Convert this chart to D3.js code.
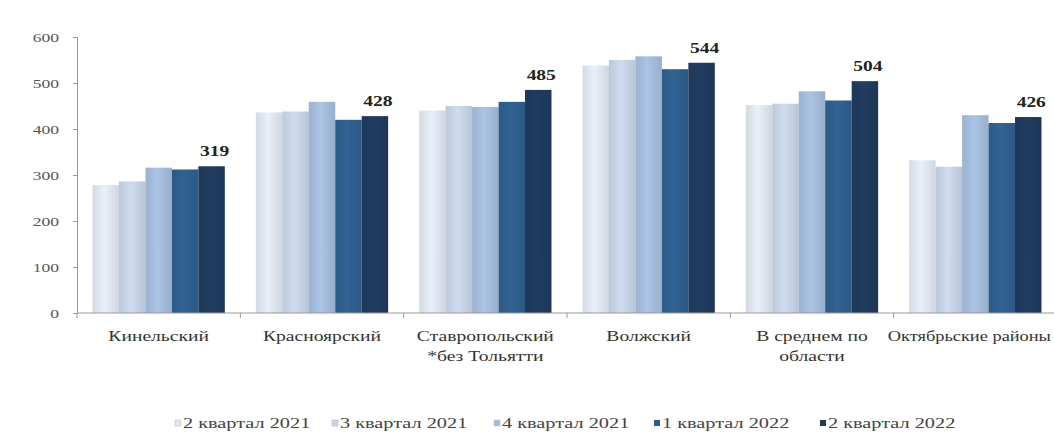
<!DOCTYPE html>
<html>
<head>
<meta charset="utf-8">
<script src="https://cdn.jsdelivr.net/npm/d3@7"></script>
<style>
  body { margin: 0; background: #fff; }
  svg { display: block; font-family: "Liberation Serif", "DejaVu Serif", serif; }
</style>
</head>
<body>
<svg></svg>
<script>
const WIDTH = 1054;
const HEIGHT = 434;

// data
const categories = [
    ['Кинельский'],
    ['Красноярский'],
    ['Ставропольский', '*без Тольятти'],
    ['Волжский'],
    ['В среднем по', 'области'],
    ['Октябрьские районы']
];
const seriesNames = ['2 квартал 2021', '3 квартал 2021', '4 квартал 2021', '1 квартал 2022', '2 квартал 2022'];
const q2_2021 = [278, 436, 440, 538, 452, 332];
const q3_2021 = [286, 438, 450, 550, 455, 318];
const q4_2021 = [316, 459, 448, 558, 482, 430];
const q1_2022 = [312, 420, 459, 530, 462, 413];
const q2_2022 = [319, 428, 485, 544, 504, 426];
const yTicks = [0, 100, 200, 300, 400, 500, 600];
const colors = ['#dfe6f0', '#c6d3e6', '#a3bcda', '#2f5f8e', '#1f3a5d'];

const series = [q2_2021, q3_2021, q4_2021, q1_2022, q2_2022];

let svg = d3.select('svg')
    .attr('width', WIDTH)
    .attr('height', HEIGHT);

// the original picture is stretched sideways, so text is widened too
function stretchX(selection, k){
    selection.each(function(){
        const el = d3.select(this);
        const x0 = +el.attr('x') || 0;
        el.attr('transform', `translate(${x0},0) scale(${k},1) translate(${-x0},0)`);
    });
}

let x = d3.scaleBand()
    .domain(d3.range(categories.length))
    .range([77, 1057])
    .paddingInner(0.19)
    .paddingOuter(0.095);

let xs = d3.scaleBand()
    .domain(d3.range(series.length))
    .range([0, x.bandwidth()]);

let y = d3.scaleLinear()
    .domain([0, 600])
    .range([313, 37]);

// bars with a soft horizontal sheen
let defs = svg.append('defs');
colors.forEach((c, i) => {
    let g = defs.append('linearGradient')
        .attr('id', `grad-${i}`)
        .attr('x1', '0').attr('x2', '1').attr('y1', '0').attr('y2', '0');
    g.append('stop').attr('offset', '0%').attr('stop-color', d3.color(c).darker(0.15));
    g.append('stop').attr('offset', '45%').attr('stop-color', d3.color(c).brighter(0.12));
    g.append('stop').attr('offset', '100%').attr('stop-color', d3.color(c).darker(0.2));
});

let groups = svg.append('g')
    .classed('bars', true)
    .selectAll('g')
    .data(categories)
    .enter()
    .append('g')
        .attr('transform', (d, i) => `translate(${x(i)},0)`);

groups.selectAll('rect')
    .data((d, i) => series.map((s, k) => ({k: k, v: s[i]})))
    .enter()
    .append('rect')
        .attr('x', (d) => xs(d.k))
        .attr('y', (d) => y(d.v))
        .attr('width', xs.bandwidth())
        .attr('height', (d) => y(0) - y(d.v))
        .attr('fill', (d) => `url(#grad-${d.k})`);

// value labels on the last quarter
let values = svg.append('g')
    .classed('values', true)
    .selectAll('text')
    .data(q2_2022)
    .enter()
    .append('text')
        .attr('x', (d, i) => x(i) + xs(4) + xs.bandwidth() / 2 + 3)
        .attr('y', (d) => y(d) - 10)
        .attr('text-anchor', 'middle')
        .attr('font-size', 15)
        .attr('font-weight', 'bold')
        .attr('fill', '#222')
        .text((d) => d);
stretchX(values, 1.3);

// y axis
let yAxis = svg.append('g')
    .attr('transform', 'translate(77,0)')
    .call(d3.axisLeft(y).tickValues(yTicks).tickSize(4).tickPadding(14));
yAxis.select('.domain').attr('stroke', '#9a9a9a');
yAxis.selectAll('.tick line').attr('stroke', '#9a9a9a');
let yLabels = yAxis.selectAll('.tick text')
    .attr('font-family', '"Liberation Serif", serif')
    .attr('font-size', 13)
    .attr('fill', '#555');
stretchX(yLabels, 1.35);

// x axis line with separators between categories
let xAxisG = svg.append('g').classed('x-axis', true);
xAxisG.append('line')
    .attr('x1', 77).attr('x2', WIDTH)
    .attr('y1', y(0)).attr('y2', y(0))
    .attr('stroke', '#9a9a9a');
xAxisG.selectAll('line.sep')
    .data(d3.range(categories.length + 1))
    .enter()
    .append('line')
        .classed('sep', true)
        .attr('x1', (i) => x(0) - x.step() * x.paddingOuter() + i * x.step())
        .attr('x2', (i) => x(0) - x.step() * x.paddingOuter() + i * x.step())
        .attr('y1', y(0))
        .attr('y2', y(0) + 5)
        .attr('stroke', '#9a9a9a');

let catGroups = xAxisG.selectAll('g.cat')
    .data(categories)
    .enter()
    .append('g')
        .classed('cat', true);
let catLabels = catGroups.append('text')
    .attr('text-anchor', 'middle')
    .attr('font-size', 14)
    .attr('fill', '#333')
    .attr('y', 341);
catLabels.selectAll('tspan')
    .data((d) => d)
    .enter()
    .append('tspan')
        .attr('x', 0)
        .attr('dy', (d, j) => j === 0 ? 0 : 20)
        .text((d) => d);
// widen the labels, but keep the last one inside the picture
catGroups.each(function(d, i){
    const len = d3.select(this).select('text').node().getComputedTextLength();
    let cx = x(i) + x.bandwidth() / 2;
    let k = 1.4;
    if(cx + len * k / 2 > WIDTH - 3){
        cx -= 6;
        k = 2 * (WIDTH - 3 - cx) / len;
    }
    d3.select(this).attr('transform', `translate(${cx},0) scale(${k},1)`);
});

// legend
let legendX = [175, 332, 494, 654, 820];
let legend = svg.append('g')
    .classed('legend', true)
    .selectAll('g')
    .data(seriesNames)
    .enter()
    .append('g')
        .attr('transform', (d, i) => `translate(${legendX[i]},428)`);
legend.append('rect')
    .attr('x', 0).attr('y', -8)
    .attr('width', 6).attr('height', 6)
    .attr('fill', (d, i) => colors[i])
    .attr('stroke', (d, i) => i < 3 ? '#b8c4d2' : 'none')
    .attr('stroke-width', 0.6);
let legendText = legend.append('text')
    .attr('x', 8)
    .attr('y', 0)
    .attr('font-size', 14)
    .attr('fill', '#444')
    .text((d) => d);
stretchX(legendText, 1.45);
</script>
</body>
</html>
